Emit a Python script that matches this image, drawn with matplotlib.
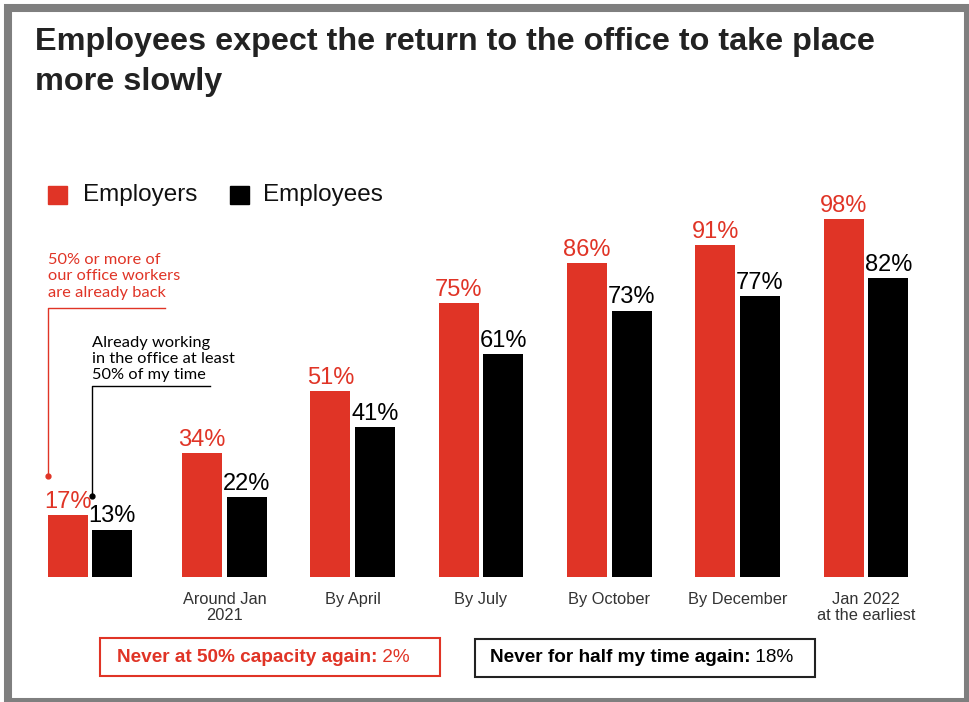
import numpy as np
import matplotlib
matplotlib.use("Agg")
import matplotlib.pyplot as plt
from matplotlib.patches import Rectangle

# survey results, share of respondents (%)
periods = ["", "Around Jan\n2021", "By April", "By July", "By October",
           "By December", "Jan 2022\nat the earliest"]
employers = [17, 34, 51, 75, 86, 91, 98]
employees = [13, 22, 41, 61, 73, 77, 82]
never_employers = 2
never_employees = 18

RED = "#e03426"
BLACK = "#000000"
GREY = "#7f7f7f"
plt.rcParams["font.family"] = ["Liberation Sans", "DejaVu Sans"]

W, H = 969, 702
fig = plt.figure(figsize=(W / 100, H / 100), dpi=100, facecolor="white")

# overlay in pixel coordinates for frame, title, legend and footer boxes
over = fig.add_axes([0, 0, 1, 1])
over.set_xlim(0, W)
over.set_ylim(H, 0)
over.axis("off")
over.add_patch(Rectangle((8, 8), 960, 694, fill=False, ec=GREY, lw=5.8,
                         clip_on=False))

over.text(35, 42, "Employees expect the return to the office to take place",
          fontsize=23.3, fontweight="bold", color="#222222", va="center")
over.text(35, 82, "more slowly", fontsize=23.3, fontweight="bold",
          color="#222222", va="center")

over.add_patch(Rectangle((48, 186), 19, 18, color=RED))
over.text(83, 195, "Employers", fontsize=17.5, va="center", color="#111111")
over.add_patch(Rectangle((230, 186), 19, 18, color=BLACK))
over.text(263, 195, "Employees", fontsize=17.5, va="center", color="#111111")

# footer boxes
over.add_patch(Rectangle((100, 638), 340, 38, fill=False, ec=RED, lw=1.5))
t1 = over.text(117, 657, "Never at 50% capacity again:", fontsize=13.7,
               fontweight="bold", color=RED, va="center")
over.annotate(f" {never_employers}%", xycoords=t1, xy=(1, 0.5), va="center",
              fontsize=13.7, color=RED)
over.add_patch(Rectangle((475, 639), 340, 38, fill=False, ec="#222222", lw=1.5))
t2 = over.text(490, 657, "Never for half my time again:", fontsize=13.7,
               fontweight="bold", color=BLACK, va="center")
over.annotate(f" {never_employees}%", xycoords=t2, xy=(1, 0.5), va="center",
              fontsize=13.7, color=BLACK)

# bar chart
step = 128.3
base = 577
scale = 3.65  # px per percent
ax = fig.add_axes([32 / W, (H - base) / H, 7 * step / W, 100 * scale / H])
ax.set_xlim(-0.5, 6.5)
ax.set_ylim(0, 100)
ax.axis("off")

x = np.arange(len(periods), dtype=float)
x[0] = -0.047
bw = 40 / step
off = 22.3 / step
b1 = ax.bar(x - off, employers, bw, color=RED)
b2 = ax.bar(x + off, employees, bw, color=BLACK)
ax.bar_label(b1, labels=[f"{v}%" for v in employers], padding=1.5,
             fontsize=17, color=RED)
ax.bar_label(b2, labels=[f"{v}%" for v in employees], padding=1.5,
             fontsize=17, color=BLACK)

for xi, lab in zip(x, periods):
    ax.text(xi, -4.0, lab, ha="center", va="top", fontsize=11.8,
            color="#333333", linespacing=1.12)

# callouts for the first group
rx = x[0] - off - bw / 2
kx = x[0] + off - bw / 2
ax.plot([rx, rx, 0.537], [27.7, 73.7, 73.7], color=RED, lw=1, clip_on=False)
ax.plot([rx], [27.7], "o", ms=3.5, color=RED, clip_on=False)
ax.text(rx, 76.0, "50% or more of\nour office workers\nare already back",
        fontsize=11.8, family="Lato", color=RED, va="bottom", ha="left",
        linespacing=1.22)
ax.plot([kx, kx, 0.887], [22.2, 52.3, 52.3], color=BLACK, lw=1, clip_on=False)
ax.plot([kx], [22.2], "o", ms=3.5, color=BLACK, clip_on=False)
ax.text(kx, 53.3, "Already working\nin the office at least\n50% of my time",
        fontsize=11.8, family="Lato", color=BLACK, va="bottom", ha="left",
        linespacing=1.22)

fig.savefig("out.png", dpi=100, facecolor="white")
